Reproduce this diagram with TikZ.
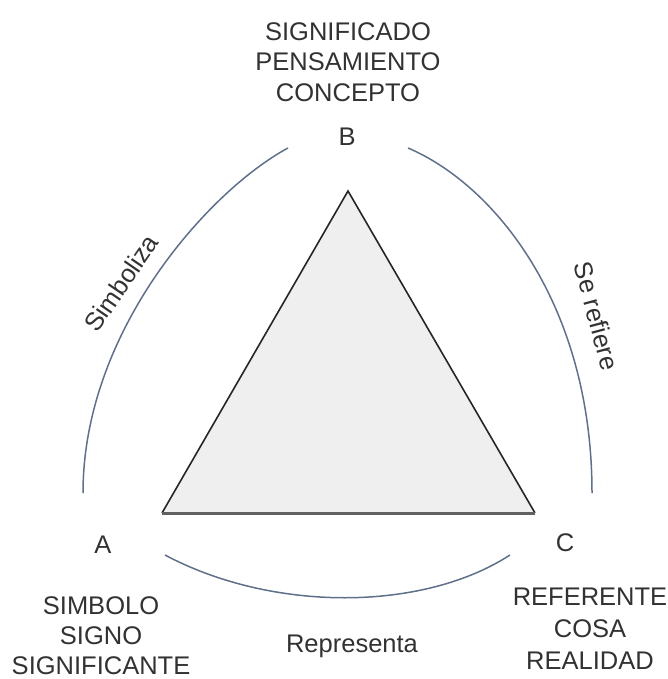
\documentclass[tikz,border=0pt]{standalone}
\usepackage{fontspec}
\setmainfont{Liberation Sans}
\usepackage{tikz}
\usetikzlibrary{positioning}

\definecolor{arcblue}{RGB}{96,112,138}
\definecolor{textgray}{RGB}{50,50,50}
\definecolor{trifill}{RGB}{239,239,239}

\begin{document}
\begin{tikzpicture}[x=1pt,y=-1pt,
            label/.style = {inner sep=0pt,text=textgray,font=\fontsize{25.5}{30.5}\selectfont,align=center},
            relation/.style = {draw=arcblue,line width=1.5pt}]
            \useasboundingbox (0,0) rectangle (667,679);

            \coordinate (left0) at (162,513);
            \coordinate (top0) at (348,191);
            \coordinate (right0) at (535,513);

            \fill [trifill] (left0) -- (top0) -- (right0) -- cycle;
            \draw [line width=1.6pt,draw=black!85,line join=miter] (right0) -- (top0) -- (left0);
            \draw [line width=3pt,draw=black!62] (left0) -- (right0);

            \node [label] (B) at (347,137) {B};
            \node [label,anchor=north] (Bterms) at (348,22) {SIGNIFICADO\\PENSAMIENTO\\CONCEPTO};
            \node [label] (A) at (103,545) {A};
            \node [label,anchor=north,font=\fontsize{25.5}{30}\selectfont] (Aterms) at (101,596) {SIMBOLO\\SIGNO\\SIGNIFICANTE};
            \node [label] (C) at (565,543) {C};
            \node [label,anchor=north,font=\fontsize{25.5}{32}\selectfont] (Cterms) at (590,588) {REFERENTE\\COSA\\REALIDAD};

            \coordinate (left1) at (83,493);
            \coordinate (left2) at (288,148);
            \coordinate (right1) at (408,148);
            \coordinate (right2) at (592,493);
            \coordinate (bottom1) at (165,555);
            \coordinate (bottom2) at (510,555);

            \draw [relation] (left1) .. controls (83,330) and (210,190) .. (left2);
            \draw [relation] (right1) .. controls (495,185) and (592,305) .. (right2);
            \draw [relation] (bottom1) .. controls (272,612) and (422,612) .. (bottom2);

            \node [label,rotate=55.5] (simboliza) at (121,283) {Simboliza};
            \node [label,rotate=-75] (serefiere) at (597,316) {Se refiere};
            \node [label] (representa) at (352,646) {Representa};
        \end{tikzpicture}
\end{document}
